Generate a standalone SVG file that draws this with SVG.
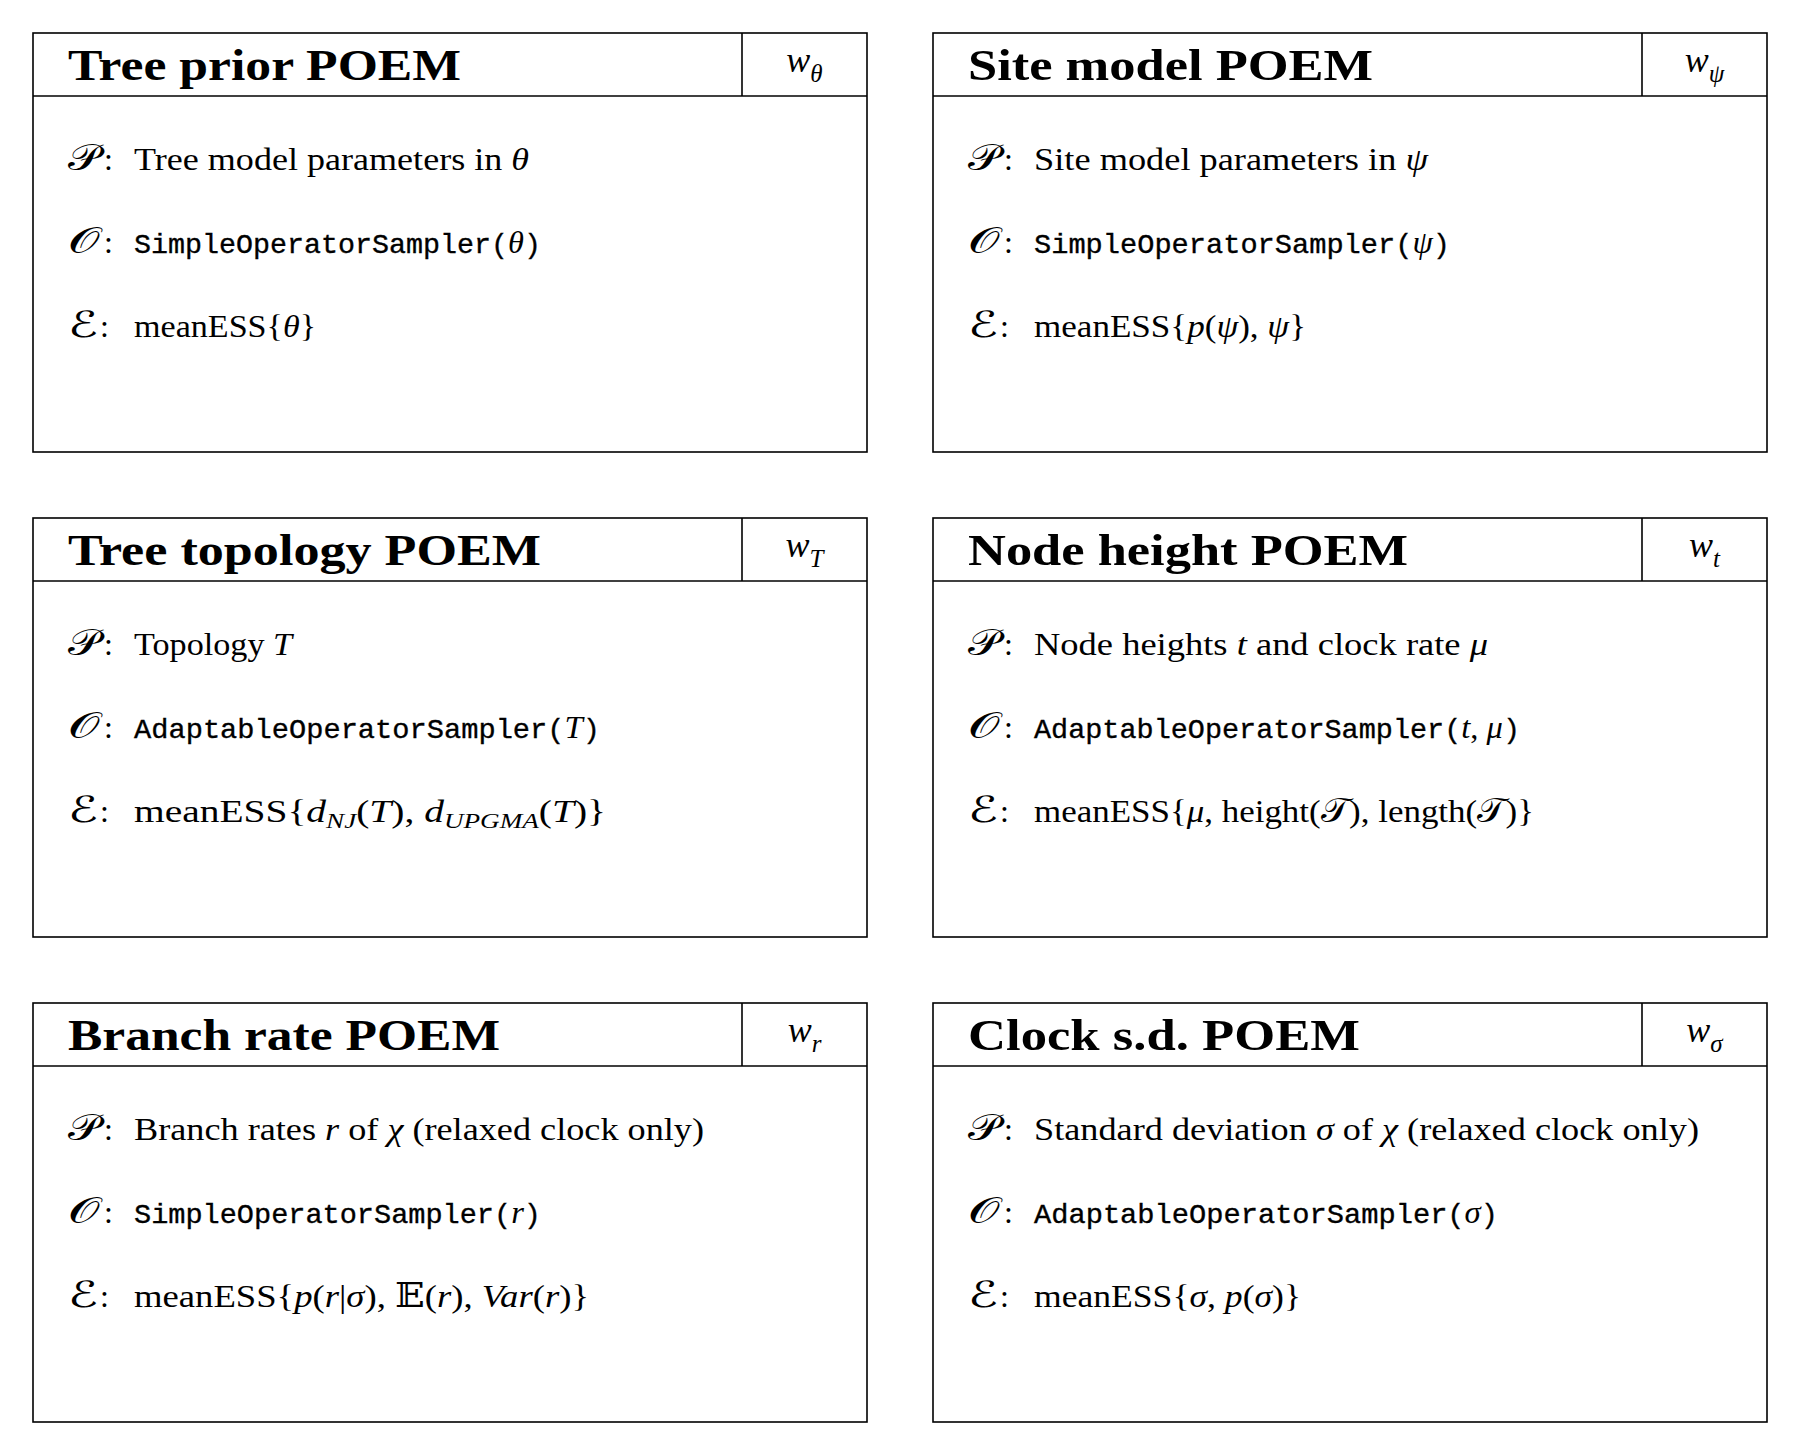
<svg xmlns="http://www.w3.org/2000/svg" width="1800" height="1456" viewBox="0 0 1800 1456">
<style>
.bg{fill:#fff}
.box{fill:none;stroke:#000;stroke-width:1.6}
.title{font-family:"Liberation Serif",serif;font-weight:bold;font-size:44px;fill:#000}
.w{font-family:"Liberation Serif",serif;font-style:italic;font-size:36px;fill:#000}
.sub{font-size:25px}
.cal{font-family:"DejaVu Serif","DejaVu Sans",serif;font-style:normal;font-size:36px;fill:#000}
.cal2{font-family:"DejaVu Serif","DejaVu Sans",serif;font-style:normal;font-size:34px}
.lab{font-family:"Liberation Serif",serif;font-size:32px;fill:#000}
.txt{font-family:"Liberation Serif",serif;font-size:32px;fill:#000}
.tt{font-family:"Liberation Mono",monospace;font-size:28px;stroke:#000;stroke-width:0.35}
.i{font-family:"Liberation Serif",serif;font-style:italic;font-size:32px;stroke:none}
.s{font-family:"Liberation Serif",serif;font-style:italic;font-size:22px}
</style>
<rect class="bg" x="0" y="0" width="1800" height="1456"/>
<g id="connectors"></g>

<g id="tree-prior" transform="translate(33,33)">
<rect class="box" x="0" y="0" width="834" height="419"/>
<line class="box" x1="0" y1="63" x2="834" y2="63"/>
<line class="box" x1="709" y1="0" x2="709" y2="63"/>
<text class="title" x="35" y="47" textLength="393" lengthAdjust="spacingAndGlyphs">Tree prior POEM</text>
<text class="w" x="771.5" y="39" text-anchor="middle">w<tspan class="sub" dy="10">θ</tspan></text>
<text class="cal" x="35" y="137" textLength="32" lengthAdjust="spacingAndGlyphs">𝒫</text><text class="lab" x="71" y="137">:</text>
<text class="cal" x="35" y="220" textLength="32" lengthAdjust="spacingAndGlyphs">𝒪</text><text class="lab" x="71" y="220">:</text>
<text class="cal" x="35" y="304" textLength="30" lengthAdjust="spacingAndGlyphs">ℰ</text><text class="lab" x="67" y="304">:</text>
<text class="txt" x="101" y="137" textLength="395" lengthAdjust="spacingAndGlyphs">Tree model parameters in <tspan class="i">θ</tspan></text>
<text class="txt" x="101" y="220" textLength="407" lengthAdjust="spacingAndGlyphs"><tspan class="tt">SimpleOperatorSampler(</tspan><tspan class="i">θ</tspan><tspan class="tt">)</tspan></text>
<text class="txt" x="101" y="304" textLength="182" lengthAdjust="spacingAndGlyphs">meanESS{<tspan class="i">θ</tspan>}</text>
</g>

<g id="site-model" transform="translate(933,33)">
<rect class="box" x="0" y="0" width="834" height="419"/>
<line class="box" x1="0" y1="63" x2="834" y2="63"/>
<line class="box" x1="709" y1="0" x2="709" y2="63"/>
<text class="title" x="35" y="47" textLength="405" lengthAdjust="spacingAndGlyphs">Site model POEM</text>
<text class="w" x="771.5" y="39" text-anchor="middle">w<tspan class="sub" dy="10">ψ</tspan></text>
<text class="cal" x="35" y="137" textLength="32" lengthAdjust="spacingAndGlyphs">𝒫</text><text class="lab" x="71" y="137">:</text>
<text class="cal" x="35" y="220" textLength="32" lengthAdjust="spacingAndGlyphs">𝒪</text><text class="lab" x="71" y="220">:</text>
<text class="cal" x="35" y="304" textLength="30" lengthAdjust="spacingAndGlyphs">ℰ</text><text class="lab" x="67" y="304">:</text>
<text class="txt" x="101" y="137" textLength="394" lengthAdjust="spacingAndGlyphs">Site model parameters in <tspan class="i">ψ</tspan></text>
<text class="txt" x="101" y="220" textLength="416" lengthAdjust="spacingAndGlyphs"><tspan class="tt">SimpleOperatorSampler(</tspan><tspan class="i">ψ</tspan><tspan class="tt">)</tspan></text>
<text class="txt" x="101" y="304" textLength="272" lengthAdjust="spacingAndGlyphs">meanESS{<tspan class="i">p</tspan>(<tspan class="i">ψ</tspan>), <tspan class="i">ψ</tspan>}</text>
</g>

<g id="tree-topology" transform="translate(33,518)">
<rect class="box" x="0" y="0" width="834" height="419"/>
<line class="box" x1="0" y1="63" x2="834" y2="63"/>
<line class="box" x1="709" y1="0" x2="709" y2="63"/>
<text class="title" x="35" y="47" textLength="473" lengthAdjust="spacingAndGlyphs">Tree topology POEM</text>
<text class="w" x="771.5" y="39" text-anchor="middle">w<tspan class="sub" dy="10">T</tspan></text>
<text class="cal" x="35" y="137" textLength="32" lengthAdjust="spacingAndGlyphs">𝒫</text><text class="lab" x="71" y="137">:</text>
<text class="cal" x="35" y="220" textLength="32" lengthAdjust="spacingAndGlyphs">𝒪</text><text class="lab" x="71" y="220">:</text>
<text class="cal" x="35" y="304" textLength="30" lengthAdjust="spacingAndGlyphs">ℰ</text><text class="lab" x="67" y="304">:</text>
<text class="txt" x="101" y="137" textLength="158" lengthAdjust="spacingAndGlyphs">Topology <tspan class="i">T</tspan></text>
<text class="txt" x="101" y="220" textLength="466" lengthAdjust="spacingAndGlyphs"><tspan class="tt">AdaptableOperatorSampler(</tspan><tspan class="i">T</tspan><tspan class="tt">)</tspan></text>
<text class="txt" x="101" y="304" textLength="472" lengthAdjust="spacingAndGlyphs">meanESS{<tspan class="i">d</tspan><tspan class="s" dy="6">NJ</tspan><tspan dy="-6">(</tspan><tspan class="i">T</tspan>), <tspan class="i">d</tspan><tspan class="s" dy="6">UPGMA</tspan><tspan dy="-6">(</tspan><tspan class="i">T</tspan>)}</text>
</g>

<g id="node-height" transform="translate(933,518)">
<rect class="box" x="0" y="0" width="834" height="419"/>
<line class="box" x1="0" y1="63" x2="834" y2="63"/>
<line class="box" x1="709" y1="0" x2="709" y2="63"/>
<text class="title" x="35" y="47" textLength="440" lengthAdjust="spacingAndGlyphs">Node height POEM</text>
<text class="w" x="771.5" y="39" text-anchor="middle">w<tspan class="sub" dy="10">t</tspan></text>
<text class="cal" x="35" y="137" textLength="32" lengthAdjust="spacingAndGlyphs">𝒫</text><text class="lab" x="71" y="137">:</text>
<text class="cal" x="35" y="220" textLength="32" lengthAdjust="spacingAndGlyphs">𝒪</text><text class="lab" x="71" y="220">:</text>
<text class="cal" x="35" y="304" textLength="30" lengthAdjust="spacingAndGlyphs">ℰ</text><text class="lab" x="67" y="304">:</text>
<text class="txt" x="101" y="137" textLength="454" lengthAdjust="spacingAndGlyphs">Node heights <tspan class="i">t</tspan> and clock rate <tspan class="i">μ</tspan></text>
<text class="txt" x="101" y="220" textLength="486" lengthAdjust="spacingAndGlyphs"><tspan class="tt">AdaptableOperatorSampler(</tspan><tspan class="i">t</tspan>, <tspan class="i">μ</tspan><tspan class="tt">)</tspan></text>
<text class="txt" x="101" y="304" textLength="500" lengthAdjust="spacingAndGlyphs">meanESS{<tspan class="i">μ</tspan>, height(<tspan class="cal2">𝒯</tspan>), length(<tspan class="cal2">𝒯</tspan>)}</text>
</g>

<g id="branch-rate" transform="translate(33,1003)">
<rect class="box" x="0" y="0" width="834" height="419"/>
<line class="box" x1="0" y1="63" x2="834" y2="63"/>
<line class="box" x1="709" y1="0" x2="709" y2="63"/>
<text class="title" x="35" y="47" textLength="432" lengthAdjust="spacingAndGlyphs">Branch rate POEM</text>
<text class="w" x="771.5" y="39" text-anchor="middle">w<tspan class="sub" dy="10">r</tspan></text>
<text class="cal" x="35" y="137" textLength="32" lengthAdjust="spacingAndGlyphs">𝒫</text><text class="lab" x="71" y="137">:</text>
<text class="cal" x="35" y="220" textLength="32" lengthAdjust="spacingAndGlyphs">𝒪</text><text class="lab" x="71" y="220">:</text>
<text class="cal" x="35" y="304" textLength="30" lengthAdjust="spacingAndGlyphs">ℰ</text><text class="lab" x="67" y="304">:</text>
<text class="txt" x="101" y="137" textLength="570" lengthAdjust="spacingAndGlyphs">Branch rates <tspan class="i">r</tspan> of <tspan class="i">χ</tspan> (relaxed clock only)</text>
<text class="txt" x="101" y="220" textLength="407" lengthAdjust="spacingAndGlyphs"><tspan class="tt">SimpleOperatorSampler(</tspan><tspan class="i">r</tspan><tspan class="tt">)</tspan></text>
<text class="txt" x="101" y="304" textLength="455" lengthAdjust="spacingAndGlyphs">meanESS{<tspan class="i">p</tspan>(<tspan class="i">r</tspan>|<tspan class="i">σ</tspan>), <tspan class="cal2">𝔼</tspan>(<tspan class="i">r</tspan>), <tspan class="i">Var</tspan>(<tspan class="i">r</tspan>)}</text>
</g>

<g id="clock-sd" transform="translate(933,1003)">
<rect class="box" x="0" y="0" width="834" height="419"/>
<line class="box" x1="0" y1="63" x2="834" y2="63"/>
<line class="box" x1="709" y1="0" x2="709" y2="63"/>
<text class="title" x="35" y="47" textLength="392" lengthAdjust="spacingAndGlyphs">Clock s.d. POEM</text>
<text class="w" x="771.5" y="39" text-anchor="middle">w<tspan class="sub" dy="10">σ</tspan></text>
<text class="cal" x="35" y="137" textLength="32" lengthAdjust="spacingAndGlyphs">𝒫</text><text class="lab" x="71" y="137">:</text>
<text class="cal" x="35" y="220" textLength="32" lengthAdjust="spacingAndGlyphs">𝒪</text><text class="lab" x="71" y="220">:</text>
<text class="cal" x="35" y="304" textLength="30" lengthAdjust="spacingAndGlyphs">ℰ</text><text class="lab" x="67" y="304">:</text>
<text class="txt" x="101" y="137" textLength="665" lengthAdjust="spacingAndGlyphs">Standard deviation <tspan class="i">σ</tspan> of <tspan class="i">χ</tspan> (relaxed clock only)</text>
<text class="txt" x="101" y="220" textLength="464" lengthAdjust="spacingAndGlyphs"><tspan class="tt">AdaptableOperatorSampler(</tspan><tspan class="i">σ</tspan><tspan class="tt">)</tspan></text>
<text class="txt" x="101" y="304" textLength="267" lengthAdjust="spacingAndGlyphs">meanESS{<tspan class="i">σ</tspan>, <tspan class="i">p</tspan>(<tspan class="i">σ</tspan>)}</text>
</g>
</svg>
